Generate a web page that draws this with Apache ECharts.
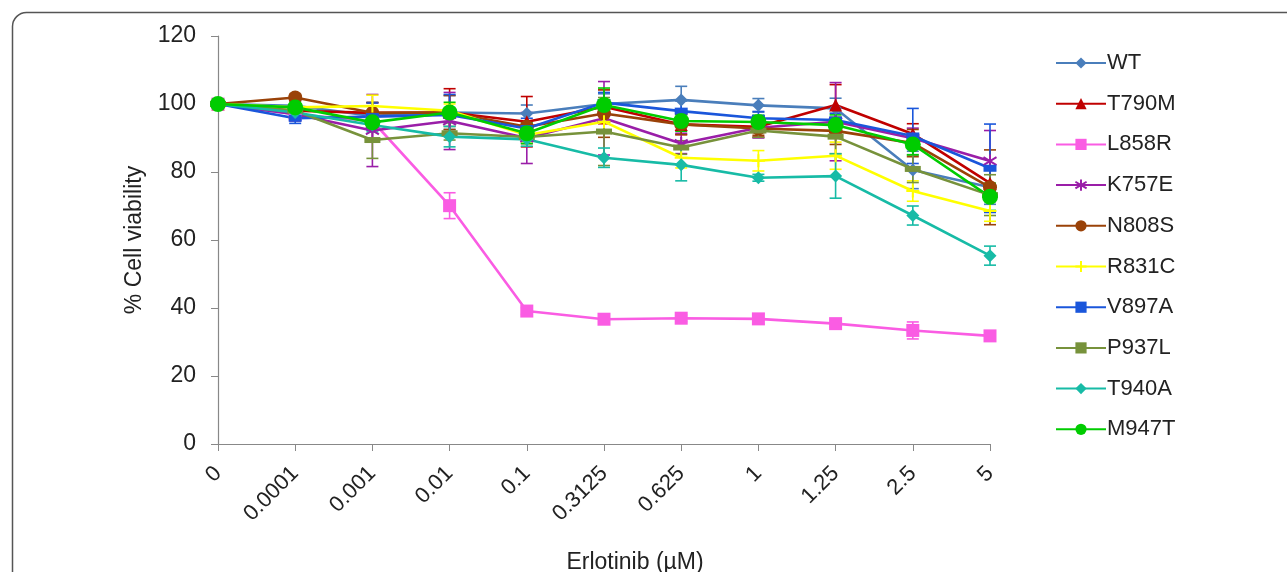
<!DOCTYPE html>
<html>
<head>
<meta charset="utf-8">
<script src="https://cdn.jsdelivr.net/npm/echarts@6/dist/echarts.min.js"></script>
<style>
html, body { margin: 0; padding: 0; background: #fff; }
#chart { width: 1287px; height: 572px; }
</style>
</head>
<body>
<div id="chart"></div>
<script>
// doses (x categories)
var CATS = ['0', '0.0001', '0.001', '0.01', '0.1', '0.3125', '0.625', '1', '1.25', '2.5', '5'];
var Y_TICKS = [0, 20, 40, 60, 80, 100, 120];

// % viability
var WT     = [100, 99.5, 96.5, 97.5, 97.2, 100.0, 101.2, 99.6, 98.7, 80.6, 75.5];
var T790M  = [100, 98.0, 97.4, 97.5, 94.8, 99.2, 94.0, 93.3, 99.7, 91.2, 76.7];
var L858R  = [100, 97.0, 95.0, 70.1, 39.1, 36.7, 37.0, 36.8, 35.4, 33.4, 31.8];
var K757E  = [100, 97.0, 92.2, 95.0, 90.0, 95.8, 88.4, 93.0, 94.8, 89.9, 83.2];
var N808S  = [100, 101.9, 97.4, 97.5, 93.3, 97.2, 94.0, 92.8, 92.1, 88.5, 75.5];
var R831C  = [100, 99.0, 99.4, 98.0, 90.9, 94.8, 84.2, 83.3, 84.8, 74.4, 68.5];
var V897A  = [100, 95.8, 96.3, 96.8, 92.8, 100.4, 97.9, 95.8, 95.3, 90.6, 81.1];
var P937L  = [100, 98.0, 89.4, 91.4, 90.3, 91.9, 87.2, 92.2, 90.4, 80.9, 73.2];
var T940A  = [100, 97.5, 93.8, 90.4, 89.6, 84.2, 82.1, 78.3, 78.8, 67.2, 55.4];
var M947T  = [100, 99.0, 94.6, 97.5, 91.4, 99.7, 95.0, 94.7, 93.8, 88.1, 72.7];

// error bars (+/-)
var WT_ERR    = [0.5, 1.5, 4, 5, 2.5, 3, 4, 2, 3, 5.5, 5];
var T790M_ERR = [0.5, 2, 3, 7, 7.4, 5, 3, 3, 6, 3, 5];
var L858R_ERR = [0.5, 1, 2, 3.8, 1, 1, 1, 1.5, 1, 2.5, 0.5];
var K757E_ERR = [0.5, 2, 10.6, 8.4, 7.5, 10.8, 3, 3, 11.5, 3, 9];
var N808S_ERR = [0.5, 1, 3, 5, 4, 7, 3, 2, 4, 4, 11];
var R831C_ERR = [0.5, 1, 3.2, 2, 2, 3, 3, 3, 4, 3, 3];
var V897A_ERR = [0.5, 1.5, 4, 6, 3, 3, 3, 2, 2, 8.1, 13];
var P937L_ERR = [0.5, 1.5, 5.4, 2, 2, 10, 2, 2, 5, 4, 6];
var T940A_ERR = [0.5, 1, 2, 3, 2, 2.85, 4.7, 1, 6.5, 2.8, 2.8];
var M947T_ERR = [0.5, 1, 2, 3, 3, 5, 3, 2, 3, 3, 4];

var STAR = 'path://M10 0 L10 20 M1 4 L19 16 M19 4 L1 16';
var PLUS = 'path://M10 0 L10 20 M0 10 L20 10';

var lines = [
    { name: 'WT',    data: WT,    err: WT_ERR,    color: '#4a7ebb', symbol: 'diamond',  size: 13 },
    { name: 'T790M', data: T790M, err: T790M_ERR, color: '#c00000', symbol: 'triangle', size: 13 },
    { name: 'L858R', data: L858R, err: L858R_ERR, color: '#fa5ce3', symbol: 'rect',     size: 13 },
    { name: 'K757E', data: K757E, err: K757E_ERR, color: '#9a1ea8', symbol: STAR,       size: 13, stroke: true },
    { name: 'N808S', data: N808S, err: N808S_ERR, color: '#9a4208', symbol: 'circle',   size: 14 },
    { name: 'R831C', data: R831C, err: R831C_ERR, color: '#ffff00', symbol: PLUS,       size: 13, stroke: true },
    { name: 'V897A', data: V897A, err: V897A_ERR, color: '#1a56db', symbol: 'rect',     size: [13, 7] },
    { name: 'P937L', data: P937L, err: P937L_ERR, color: '#77923b', symbol: 'rect',     size: [16, 6] },
    { name: 'T940A', data: T940A, err: T940A_ERR, color: '#17bba6', symbol: 'diamond',  size: 13 },
    { name: 'M947T', data: M947T, err: M947T_ERR, color: '#00cc00', symbol: 'circle',   size: 16 }
];

var FONT = "'Liberation Sans', Arial, sans-serif";

function errSeries(s) {
    var rows = s.data.map(function (v, i) { return [i, v - s.err[i], v + s.err[i]]; });
    return {
        type: 'custom',
        z: 2,
        silent: true,
        data: rows,
        encode: { x: 0, y: [1, 2] },
        renderItem: function (params, api) {
            var top = api.coord([api.value(0), api.value(2)]);
            var bot = api.coord([api.value(0), api.value(1)]);
            var w = 6;
            var st = { stroke: s.color, lineWidth: 1.6 };
            return {
                type: 'group',
                children: [
                    { type: 'line', shape: { x1: top[0], y1: top[1], x2: bot[0], y2: bot[1] }, style: st },
                    { type: 'line', shape: { x1: top[0] - w, y1: top[1], x2: top[0] + w, y2: top[1] }, style: st },
                    { type: 'line', shape: { x1: bot[0] - w, y1: bot[1], x2: bot[0] + w, y2: bot[1] }, style: st }
                ]
            };
        }
    };
}

var series = [];
lines.forEach(function (s) { series.push(errSeries(s)); });
lines.forEach(function (s) {
    series.push({
        name: s.name,
        type: 'line',
        z: 3,
        data: s.data,
        symbol: s.symbol,
        symbolSize: s.size,
        showAllSymbol: true,
        lineStyle: { color: s.color, width: 2.6 },
        itemStyle: s.stroke
            ? { color: s.color, borderColor: s.color, borderWidth: 2 }
            : { color: s.color },
        emphasis: { disabled: true }
    });
});

var myChart = echarts.init(document.getElementById('chart'));
var option = {
    animation: false,
    backgroundColor: '#fff',
    textStyle: { fontFamily: FONT },
    graphic: [{
        type: 'rect',
        left: 10,
        top: 10,
        shape: { width: 1400, height: 700, r: 14 },
        style: { fill: 'none', stroke: '#555', lineWidth: 1.5 }
    }],
    legend: {
        orient: 'vertical',
        left: 1050,
        top: 47,
        itemWidth: 50,
        itemHeight: 14,
        itemGap: 18.7,
        data: lines.map(function (s) { return s.name; }),
        textStyle: { fontSize: 22, color: '#222', fontFamily: FONT, padding: [0, 0, 0, -4] }
    },
    grid: {
        left: 218,
        right: 297,
        top: 36,
        bottom: 128,
        containLabel: false,
        outerBoundsMode: 'none'
    },
    xAxis: {
        type: 'category',
        data: CATS,
        boundaryGap: false,
        name: 'Erlotinib (µM)',
        nameLocation: 'middle',
        nameGap: 107,
        nameTextStyle: { fontSize: 23, color: '#222', fontFamily: FONT, padding: [0, 0, 0, 62] },
        axisLine: { lineStyle: { color: '#888', width: 1.2 } },
        axisTick: { alignWithLabel: true, length: 7, lineStyle: { color: '#888' } },
        axisLabel: { rotate: 45, fontSize: 22, color: '#222', margin: 26, interval: 0, fontFamily: FONT },
        splitLine: { show: false }
    },
    yAxis: {
        type: 'value',
        min: Y_TICKS[0],
        max: Y_TICKS[Y_TICKS.length - 1],
        interval: 20,
        name: '% Cell viability',
        nameLocation: 'middle',
        nameGap: 72,
        nameTextStyle: { fontSize: 23, color: '#222', fontFamily: FONT },
        axisLine: { show: true, lineStyle: { color: '#888', width: 1.2 } },
        axisTick: { show: true, length: 7, lineStyle: { color: '#888' } },
        axisLabel: { fontSize: 23, color: '#222', margin: 22, fontFamily: FONT },
        splitLine: { show: false }
    },
    series: series
};
myChart.setOption(option);
window.addEventListener('resize', function () {
    myChart.resize();
});
</script>
</body>
</html>
